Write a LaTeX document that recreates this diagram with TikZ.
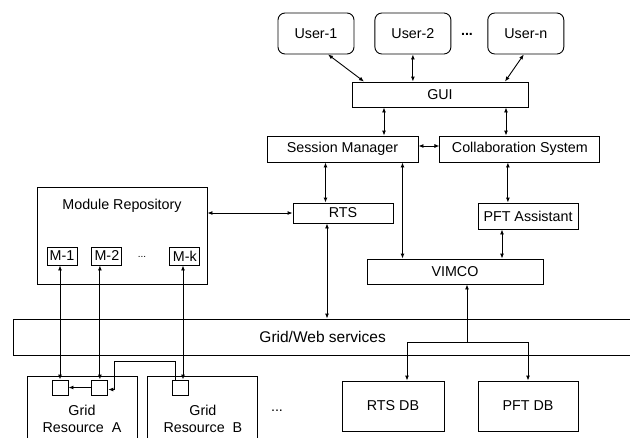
\documentclass[tikz,border=0pt]{standalone}
\usepackage{fontspec}
\setmainfont{Liberation Sans}
\usetikzlibrary{arrows.meta, positioning, calc}

\begin{document}
\begin{tikzpicture}[
        x=1pt, y=-1pt,
        node distance=20pt,
        box/.style={draw, rectangle, inner sep=0pt, align=center,
            font=\fontsize{14.3}{17}\selectfont},
        user/.style={box, rounded corners=7pt, minimum width=76pt, minimum height=41pt},
        modbox/.style={box, minimum width=30pt, minimum height=18pt},
        small/.style={draw, rectangle, inner sep=0pt, minimum width=16pt, minimum height=15pt},
        dbbox/.style={box, minimum height=50pt},
        resbox/.style={box, minimum width=110pt, minimum height=85pt},
        dots/.style={inner sep=0pt, font=\fontsize{14.3}{17}\selectfont},
        line width=0.9pt,
        >={Latex[length=5pt,width=4pt]}
    ]
    \useasboundingbox (0,0) rectangle (630,437);
    \clip (0,0) rectangle (630,437);

    % users
    \node[user] (U1) at (316,33.5) {User-1};
    \node[user, right=20pt of U1] (U2) {User-2};
    \node[user, right=36pt of U2] (Un) {User-n};
    \node[dots] (udots) at (467,34) {\textbf{...}};

    % GUI, session manager, collaboration
    \node[box, minimum width=176pt, minimum height=25pt] (GUI) at (440,94.5) {GUI};
    \node[box, minimum width=151pt, minimum height=26pt] (SM) at (342.5,149) {Session Manager};
    \node[box, minimum width=160pt, minimum height=26pt, right=21pt of SM] (CS) {Collaboration System};

    % RTS, PFT assistant, VIMCO
    \node[box, minimum width=100pt, minimum height=20pt] (RTS) at (343,213) {RTS};
    \node[box, minimum width=100pt, minimum height=26pt] (PFTA) at (528,216) {PFT Assistant};
    \node[box, minimum width=176pt, minimum height=25pt] (VIMCO) at (455,271.5) {VIMCO};

    % module repository
    \node[box, minimum width=170pt, minimum height=97pt] (MR) at (122,235.5) {};
    \node[dots] (MRlabel) at ([yshift=-19pt]MR.north) {Module Repository};
    \node[modbox] (M1) at (62,256) {M-1};
    \node[modbox, right=14pt of M1] (M2) {M-2};
    \node[modbox, right=47pt of M2] (Mk) {M-k};
    \node[dots, font=\fontsize{10}{12}\selectfont] (mdots) at (142,257) {...};

    % grid/web services band
    \node[draw, rectangle, inner sep=0pt, minimum width=640pt, minimum height=36pt,
        anchor=west] (grid) at (13,337) {};
    \node[inner sep=0pt, anchor=west, font=\fontsize{15.5}{18}\selectfont]
        (gridlabel) at (259,337) {Grid/Web services};

    % databases
    \node[dbbox, minimum width=102pt] (RTSDB) at (393,406) {RTS DB};
    \node[dbbox, minimum width=100pt] (PFTDB) at (528,406) {PFT DB};
    \node[dots] (bdots) at (277,411) {...};

    % grid resources
    \node[resbox, anchor=north] (ResA) at (82,376) {Grid\\Resource\ \ A};
    \node[resbox, right=10pt of ResA] (ResB) {Grid\\Resource\ \ B};
    \node[small] (s1) at (60,387.5) {};
    \node[small, right=23pt of s1] (s2) {};
    \node[small] (s3) at (180,387.5) {};

    % Edges
    \draw[<->] ([xshift=12pt]U1.south) -- ([xshift=-76pt]GUI.north);
    \draw[<->] (U2.south) -- (U2.south |- GUI.north);
    \draw[<->] ([xshift=-2pt]Un.south) -- ([xshift=65pt]GUI.north);

    \draw[<->] ([xshift=-56pt]GUI.south) -- ([xshift=-56pt]GUI.south |- SM.north);
    \draw[<->] ([xshift=66pt]GUI.south) -- ([xshift=66pt]GUI.south |- CS.north);
    \draw[<->] ([yshift=3pt]SM.east) -- ([yshift=3pt]CS.west);

    \draw[<->] ([xshift=-17pt]SM.south) -- ([xshift=-17pt]SM.south |- RTS.north);
    \draw[<->] ([xshift=60pt]SM.south) -- ([xshift=60pt]SM.south |- VIMCO.north);
    \draw[<->] ([xshift=-12pt]CS.south) -- ([xshift=-12pt]CS.south |- PFTA.north);
    \draw[<->] ([xshift=-26pt]PFTA.south) -- ([xshift=-26pt]PFTA.south |- VIMCO.north);

    \draw[<->] (RTS.west) -- (RTS.west -| MR.east);
    \draw[<->] ([xshift=-16pt]RTS.south) -- ([xshift=-16pt]RTS.south |- grid.north);

    \coordinate (split) at ($(VIMCO.south)+(12,58)$);
    \draw[->] (split) -- ([xshift=12pt]VIMCO.south);
    \draw[->] (split) -| ([xshift=14pt]RTSDB.north);
    \draw[->] (split) -| (PFTDB.north);

    \draw[<->] (s1.north) -- (s1.north |- M1.south);
    \draw[<->] (s2.north) -- (s2.north |- M2.south);
    \draw[<->] ([xshift=3pt]s3.north) -- ([xshift=3pt]s3.north |- Mk.south);
    \draw[->] (s2) -- (s1);
    \coordinate (loop) at (114,361);
    \draw[->] ([xshift=-5pt]s3.north) |- (loop) |- ([yshift=-2pt]s2.east);
\end{tikzpicture}
\end{document}
